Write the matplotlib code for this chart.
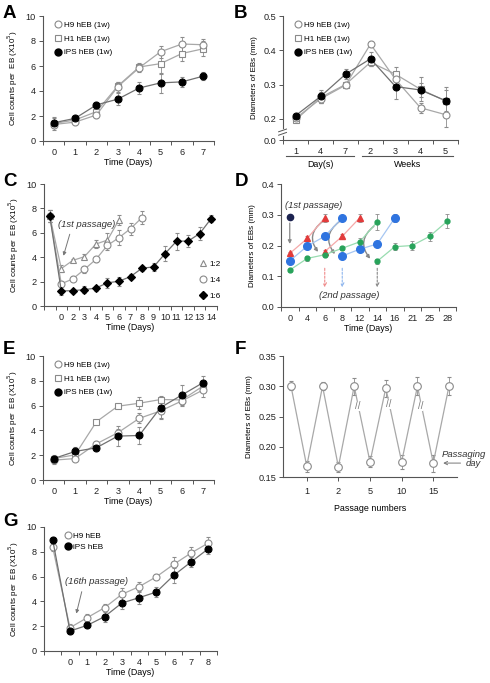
import matplotlib
matplotlib.use('Agg')
import matplotlib.pyplot as plt
from matplotlib.lines import Line2D
from matplotlib.patches import FancyArrowPatch
import matplotlib.transforms as mtransforms
import numpy as np

plt.rcParams['font.family'] = ['Liberation Sans', 'DejaVu Sans']

# ---------------- data ----------------
# Panel A
a_days = [0, 1, 2, 3, 4, 5, 6, 7]
a_h9 = [1.32, 1.51, 2.08, 4.35, 5.86, 7.14, 7.76, 7.70]
a_h9_err = [0.3, 0.2, 0.2, 0.4, 0.3, 0.5, 0.6, 0.5]
a_h1 = [1.40, 1.68, 2.35, 4.40, 5.92, 6.19, 7.00, 7.38]
a_h1_err = [0.5, 0.2, 0.3, 0.3, 0.3, 0.8, 0.6, 0.6]
a_ips = [1.46, 1.81, 2.89, 3.35, 4.24, 4.65, 4.73, 5.19]
a_ips_err = [0.4, 0.2, 0.2, 0.5, 0.5, 0.8, 0.4, 0.3]

# Panel B
b_labels = ['1', '4', '7', '2', '3', '4', '5']
b_h9 = [0.201, 0.258, 0.298, 0.418, 0.315, 0.232, 0.212]
b_h9_err = [0.006, 0.012, 0.008, 0.008, 0.02, 0.015, 0.035]
b_h1 = [0.196, 0.262, 0.300, 0.365, 0.330, 0.286, 0.252]
b_h1_err = [0.006, 0.015, 0.008, 0.012, 0.02, 0.035, 0.04]
b_ips = [0.209, 0.265, 0.330, 0.375, 0.294, 0.284, 0.253]
b_ips_err = [0.006, 0.02, 0.015, 0.02, 0.035, 0.02, 0.03]

# Panel C
c_labels = ['0', '2', '3', '4', '5', '6', '7', '8', '9', '10', '11', '12', '13', '14']
c_start = 7.38
c_start_err = 0.5
c_12 = [3.07, 3.74, 4.04, 5.08, 5.40, 7.06]
c_12_err = [0.3, 0.15, 0.2, 0.3, 0.6, 0.4]
c_14 = [1.82, 2.22, 3.00, 3.82, 4.97, 5.60, 6.34, 7.25]
c_14_err = [0.2, 0.2, 0.3, 0.2, 0.4, 0.6, 0.5, 0.5]
c_16 = [1.23, 1.26, 1.34, 1.47, 1.90, 2.03, 2.41, 3.10, 3.20, 4.30, 5.32, 5.32, 5.94, 7.17]
c_16_err = [0.35, 0.15, 0.3, 0.2, 0.4, 0.35, 0.2, 0.2, 0.35, 0.6, 0.7, 0.5, 0.5, 0.3]

# Panel D
d_labels = ['0', '4', '6', '8', '12', '14', '16', '21', '25', '28']
d_navy = [0.292]
d_red1 = [0.174, 0.223, 0.290]
d_red2 = [0.180, 0.230, 0.290]
d_blue1 = [0.150, 0.198, 0.230, 0.290]
d_blue2 = [0.166, 0.188, 0.205, 0.289]
d_green1 = [0.120, 0.158, 0.170, 0.191, 0.212, 0.277]
d_green1_err = [0.005, 0.008, 0.008, 0.006, 0.012, 0.025]
d_green2 = [0.149, 0.196, 0.200, 0.230, 0.279]
d_green2_err = [0.008, 0.012, 0.015, 0.015, 0.022]

# Panel E
e_days = [0, 1, 2, 3, 4, 5, 6, 7]
e_h9 = [1.60, 1.73, 2.92, 3.81, 4.97, 5.57, 6.38, 7.27]
e_h9_err = [0.3, 0.2, 0.2, 0.3, 0.4, 0.6, 0.4, 0.6]
e_h1 = [1.73, 2.03, 4.70, 5.95, 6.19, 6.49, 6.46, 7.59]
e_h1_err = [0.2, 0.2, 0.15, 0.15, 0.5, 0.2, 0.3, 0.4]
e_ips = [1.73, 2.30, 2.60, 3.54, 3.59, 5.84, 6.86, 7.86]
e_ips_err = [0.3, 0.4, 0.2, 0.8, 0.7, 0.9, 0.8, 0.5]

# Panel F
f_tick_labels = ['1', '2', '5', '10', '15']
f_vals = [0.301, 0.168, 0.300, 0.167, 0.300, 0.175, 0.297, 0.175, 0.300, 0.173, 0.301]
f_err = [0.008, 0.009, 0.007, 0.008, 0.014, 0.009, 0.014, 0.012, 0.015, 0.014, 0.015]

# Panel G
g_labels = ['0', '1', '2', '3', '4', '5', '6', '7', '8']
g_h9 = [8.39, 1.88, 2.69, 3.49, 4.57, 5.19, 5.99, 6.99, 7.90, 8.71]
g_h9_err = [0.3, 0.3, 0.3, 0.3, 0.5, 0.4, 0.2, 0.6, 0.5, 0.5]
g_ips = [8.98, 1.61, 2.07, 2.77, 3.87, 4.30, 4.76, 6.10, 7.18, 8.25]
g_ips_err = [0.2, 0.2, 0.2, 0.4, 0.5, 0.5, 0.4, 0.6, 0.4, 0.4]

# ---------------- style ----------------
W, H = 490, 683
fig = plt.figure(figsize=(W / 100, H / 100), dpi=100)

LINE = '#a8a8a8'
EDGE = '#8a8a8a'
ECOL = '#8c8c8c'
TICKFS = 6.6
LABFS = 5.8
XLABFS = 6.4
LEGFS = 5.9
ANNFS = 6.8


def add_ax(x0, y0, x1, y1):
    return fig.add_axes([x0 / W, 1 - y1 / H, (x1 - x0) / W, (y1 - y0) / H])


def style(ax):
    for s in ['top', 'right']:
        ax.spines[s].set_visible(False)
    for s in ['left', 'bottom']:
        ax.spines[s].set_color('#555555')
        ax.spines[s].set_linewidth(0.8)
    ax.tick_params(axis='both', which='both', direction='out', length=3, width=0.7,
                   color='#555555', labelsize=TICKFS, labelcolor='#222222', pad=2)


def cat_x(ax, positions, labels, lo, hi):
    ax.set_xlim(lo, hi)
    ax.set_xticks(positions)
    ax.set_xticklabels(labels)
    ax.tick_params(axis='x', which='major', length=0, pad=5)
    ax.set_xticks(np.arange(lo, hi + 0.01, 1), minor=True)
    ax.tick_params(axis='x', which='minor', length=3)


def series(ax, x, y, err, marker, mfc, mec, ms=5, color=LINE, lw=0.9, z=3):
    ax.errorbar(x, y, yerr=err, fmt='-', color=color, lw=lw, marker=marker, mfc=mfc,
                mec=mec, ms=ms, mew=0.8, ecolor=ECOL, elinewidth=0.6, capsize=1.5,
                capthick=0.6, zorder=z)


def legend3(ax, labels, anchor, spacing=0.75):
    hs = [Line2D([], [], ls='none', marker='o', mfc='white', mec=EDGE, ms=5, mew=0.8),
          Line2D([], [], ls='none', marker='s', mfc='white', mec=EDGE, ms=5, mew=0.8),
          Line2D([], [], ls='none', marker='o', mfc='black', mec='black', ms=5)]
    hs = hs[:len(labels)] if len(labels) == 3 else [hs[0], hs[2]]
    ax.legend(hs, labels, loc='upper left', bbox_to_anchor=anchor, frameon=False,
              fontsize=LEGFS, handlelength=0.7, handletextpad=0.35, labelspacing=spacing,
              borderaxespad=0, borderpad=0)


def count_axis(ax):
    ax.set_ylim(0, 10)
    ax.set_yticks([0, 2, 4, 6, 8, 10])
    ax.set_ylabel('Cell counts per  EB (X10$^5$)', fontsize=LABFS, labelpad=4)
    ax.set_xlabel('Time (Days)', fontsize=XLABFS, labelpad=1)


def letter(x, y, s):
    fig.text(x / W, 1 - y / H, s, fontsize=13.5, fontweight='bold', ha='left', va='center')


# ---------------- Panel A ----------------
ax = add_ax(43, 16, 214, 141)
style(ax)
count_axis(ax)
cat_x(ax, a_days, [str(d) for d in a_days], -0.5, 7.5)
series(ax, a_days, a_h1, a_h1_err, 's', 'white', EDGE)
series(ax, a_days, a_h9, a_h9_err, 'o', 'white', EDGE)
series(ax, a_days, a_ips, a_ips_err, 'o', 'black', 'black', color='#707070')
legend3(ax, ['H9 hEB (1w)', 'H1 hEB (1w)', 'iPS hEB (1w)'], (0.07, 0.96))
letter(3, 14, 'A')

# ---------------- Panel B ----------------
ax = add_ax(283, 16, 458, 140)
style(ax)
bx = list(range(len(b_labels)))
cat_x(ax, bx, b_labels, -0.5, 6.5)
ax.set_ylim(0.138, 0.5)
ax.set_yticks([0.138, 0.2, 0.3, 0.4, 0.5])
ax.set_yticklabels(['0.0', '0.2', '0.3', '0.4', '0.5'])
ax.set_ylabel('Diameters of EBs (mm)', fontsize=LABFS, labelpad=4)
series(ax, bx, b_h1, b_h1_err, 's', 'white', EDGE)
series(ax, bx, b_h9, b_h9_err, 'o', 'white', EDGE)
series(ax, bx, b_ips, b_ips_err, 'o', 'black', 'black', color='#707070')
legend3(ax, ['H9 hEB (1w)', 'H1 hEB (1w)', 'iPS hEB (1w)'], (0.07, 0.96))
# axis break marks
tr = mtransforms.blended_transform_factory(ax.transAxes, ax.transData)
ax.plot([0, 0], [0.155, 0.168], transform=tr, color='white', lw=2, clip_on=False, zorder=5)
for yy in (0.156, 0.166):
    ax.plot([-0.025, 0.02], [yy - 0.004, yy + 0.004], transform=tr, color='#555555',
            lw=0.7, clip_on=False, zorder=6)
tr2 = mtransforms.blended_transform_factory(ax.transData, ax.transAxes)
ax.plot([-0.4, 2.35], [-0.13, -0.13], transform=tr2, color='#555555', lw=0.8, clip_on=False)
ax.plot([2.65, 6.3], [-0.13, -0.13], transform=tr2, color='#555555', lw=0.8, clip_on=False)
ax.text(1.0, -0.2, 'Day(s)', transform=tr2, ha='center', va='center', fontsize=XLABFS)
ax.text(4.5, -0.2, 'Weeks', transform=tr2, ha='center', va='center', fontsize=XLABFS)
letter(234, 13, 'B')

# ---------------- Panel C ----------------
ax = add_ax(44, 184, 217, 306)
style(ax)
count_axis(ax)
cx = list(range(len(c_labels)))
cat_x(ax, cx, c_labels, -1.5, 13.5)
series(ax, [-1] + cx[:len(c_12)], [c_start] + c_12, [c_start_err] + c_12_err, '^', 'white', EDGE)
series(ax, [-1] + cx[:len(c_14)], [c_start] + c_14, [c_start_err] + c_14_err, 'o', 'white', EDGE)
series(ax, [-1] + cx, [c_start] + c_16, [c_start_err] + c_16_err, 'D', 'black', 'black', ms=4.2,
       color='#707070')
ax.text(-0.3, 6.7, '(1st passage)', fontsize=ANNFS, style='italic', color='#333333',
        ha='left', va='center')
ax.annotate('', xy=(0.12, 3.9), xytext=(0.8, 6.1),
            arrowprops=dict(arrowstyle='-|>', color='#777777', lw=0.7, mutation_scale=5))
hs = [Line2D([], [], ls='none', marker='^', mfc='white', mec=EDGE, ms=5, mew=0.8),
      Line2D([], [], ls='none', marker='o', mfc='white', mec=EDGE, ms=5, mew=0.8),
      Line2D([], [], ls='none', marker='D', mfc='black', mec='black', ms=4.2)]
ax.legend(hs, ['1:2', '1:4', '1:6'], loc='lower right', bbox_to_anchor=(1.02, 0.05),
          frameon=False, fontsize=LEGFS, handlelength=0.7, handletextpad=0.4,
          labelspacing=1.0, borderaxespad=0, borderpad=0)
letter(3, 181, 'C')

# ---------------- Panel D ----------------
ax = add_ax(281, 184, 456, 307)
style(ax)
dx = list(range(len(d_labels)))
cat_x(ax, dx, d_labels, -0.5, 9.5)
ax.set_ylim(0, 0.4)
ax.set_yticks([0, 0.1, 0.2, 0.3, 0.4])
ax.set_yticklabels(['0.0', '0.1', '0.2', '0.3', '0.4'])
ax.set_ylabel('Diameters of EBs (mm)', fontsize=LABFS, labelpad=4)
ax.set_xlabel('Time (Days)', fontsize=XLABFS, labelpad=1)
RED, RED_L = '#e23b3b', '#f5a9a9'
BLUE, BLUE_L = '#2f74e0', '#a6c6f2'
GREEN, GREEN_L = '#27a35a', '#98dcb0'
ekw = dict(ecolor=ECOL, elinewidth=0.6, capsize=1.5, capthick=0.6)
ax.errorbar(dx[:3], d_red1, yerr=[0.004, 0.008, 0.012], fmt='-^', color=RED_L, mfc=RED,
            mec=RED, ms=4.5, lw=0.9, zorder=3, **ekw)
ax.errorbar(dx[2:5], d_red2, yerr=[0.006, 0.008, 0.012], fmt='-^', color=RED_L, mfc=RED,
            mec=RED, ms=4.5, lw=0.9, zorder=3, **ekw)
ax.errorbar(dx[:4], d_blue1, yerr=[0.006, 0.008, 0.008, 0.005], fmt='-o', color=BLUE_L,
            mfc=BLUE, mec=BLUE, ms=5.5, lw=0.9, zorder=3, **ekw)
ax.errorbar(dx[3:7], d_blue2, yerr=[0.005, 0.005, 0.006, 0.012], fmt='-o', color=BLUE_L,
            mfc=BLUE, mec=BLUE, ms=5.5, lw=0.9, zorder=3, **ekw)
ax.errorbar(dx[:6], d_green1, yerr=d_green1_err, fmt='-o', color=GREEN_L, mfc=GREEN,
            mec=GREEN, ms=3.5, lw=0.9, zorder=3, **ekw)
ax.errorbar(dx[5:], d_green2, yerr=d_green2_err, fmt='-o', color=GREEN_L, mfc=GREEN,
            mec=GREEN, ms=3.5, lw=0.9, zorder=3, **ekw)
ax.plot(dx[:1], d_navy, 'o', color='#1c2350', ms=4.5, zorder=4)
ax.annotate('', xy=(0, 0.196), xytext=(0, 0.282),
            arrowprops=dict(arrowstyle='-|>', color='#888888', lw=0.9, mutation_scale=5))
for (x1, y1, x2, y2) in [(2.0, 0.283, 1.72, 0.172), (2.96, 0.283, 2.68, 0.165),
                         (4.93, 0.268, 4.7, 0.150)]:
    ax.add_patch(FancyArrowPatch((x1, y1), (x2, y2), connectionstyle='arc3,rad=0.55',
                                 arrowstyle='-|>', mutation_scale=5, color='#888888',
                                 lw=1.0, zorder=2))
for xx, col in [(2, '#ef8a8a'), (3, '#8fb6ee'), (5, '#888888')]:
    ax.annotate('', xy=(xx, 0.055), xytext=(xx, 0.135),
                arrowprops=dict(arrowstyle='->', color=col, lw=0.8, ls=(0, (2, 1.5)),
                                mutation_scale=6))
ax.text(-0.3, 0.33, '(1st passage)', fontsize=ANNFS, style='italic', color='#333333',
        ha='left', va='center')
ax.text(3.4, 0.036, '(2nd passage)', fontsize=ANNFS, style='italic', color='#333333',
        ha='center', va='center')
letter(235, 181, 'D')

# ---------------- Panel E ----------------
ax = add_ax(43, 356, 214, 480)
style(ax)
count_axis(ax)
cat_x(ax, e_days, [str(d) for d in e_days], -0.5, 7.5)
series(ax, e_days, e_h1, e_h1_err, 's', 'white', EDGE)
series(ax, e_days, e_h9, e_h9_err, 'o', 'white', EDGE)
series(ax, e_days, e_ips, e_ips_err, 'o', 'black', 'black', color='#707070')
legend3(ax, ['H9 hEB (1w)', 'H1 hEB (1w)', 'iPS hEB (1w)'], (0.07, 0.96))
letter(3, 349, 'E')

# ---------------- Panel F ----------------
ax = add_ax(283, 356, 457, 477)
style(ax)
fx = list(range(len(f_vals)))
ax.set_xlim(-0.5, 10.5)
ax.set_xticks(fx[1::2])
ax.set_xticklabels(f_tick_labels)
ax.tick_params(axis='x', which='major', length=3, pad=4)
ax.set_ylim(0.15, 0.35)
ax.set_yticks([0.15, 0.20, 0.25, 0.30, 0.35])
ax.set_yticklabels(['0.15', '0.20', '0.25', '0.30', '0.35'])
ax.set_ylabel('Diameters of EBs (mm)', fontsize=LABFS, labelpad=4)
ax.set_xlabel('Passage numbers', fontsize=XLABFS, labelpad=6)
series(ax, fx, f_vals, f_err, 'o', 'white', EDGE, ms=5.5)
for bxp, byp in [(4.2, 0.267), (6.2, 0.271), (8.2, 0.267)]:
    ax.text(bxp, byp, '//', fontsize=7, color='#777777', ha='center', va='center',
            bbox=dict(boxstyle='square,pad=0', fc='white', ec='none'), zorder=5)
ax.annotate('', xy=(9.45, 0.173), xytext=(10.9, 0.173),
            arrowprops=dict(arrowstyle='->', color='#777777', lw=0.7, mutation_scale=6),
            annotation_clip=False)
ax.text(12.3, 0.187, 'Passaging', fontsize=ANNFS, style='italic', color='#333333',
        ha='right', va='center', clip_on=False)
ax.text(12.0, 0.172, 'day', fontsize=ANNFS, style='italic', color='#333333',
        ha='right', va='center', clip_on=False)
letter(235, 349, 'F')

# ---------------- Panel G ----------------
ax = add_ax(44, 527, 217, 651)
style(ax)
count_axis(ax)
gx = list(range(len(g_labels)))
cat_x(ax, gx, g_labels, -1.5, 8.5)
series(ax, [-1] + gx, g_h9, g_h9_err, 'o', 'white', EDGE)
series(ax, [-1] + gx, g_ips, g_ips_err, 'o', 'black', 'black', color='#707070')
legend3(ax, ['H9 hEB', 'iPS hEB'], (0.12, 0.96), spacing=0.45)
ax.text(-0.3, 5.6, '(16th passage)', fontsize=ANNFS, style='italic', color='#333333',
        ha='left', va='center')
ax.annotate('', xy=(0.33, 2.8), xytext=(0.72, 5.0),
            arrowprops=dict(arrowstyle='-|>', color='#777777', lw=0.7, mutation_scale=5))
letter(3, 521, 'G')

fig.savefig('out.png', dpi=100)
